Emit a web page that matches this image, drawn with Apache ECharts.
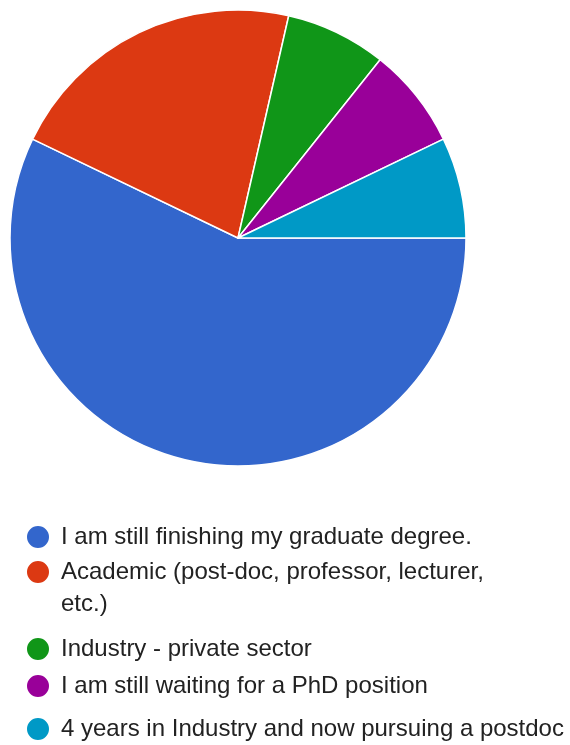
<!DOCTYPE html>
<html>
<head>
<meta charset="utf-8">
<script src="https://cdn.jsdelivr.net/npm/echarts@6/dist/echarts.min.js"></script>
<style>
html, body { margin: 0; padding: 0; background: #fff; }
#chart { width: 570px; height: 745px; }
</style>
</head>
<body>
<div id="chart"></div>
<script>
const categories = [
  'I am still finishing my graduate degree.',
  'Academic (post-doc, professor, lecturer, etc.)',
  'Industry - private sector',
  'I am still waiting for a PhD position',
  '4 years in Industry and now pursuing a postdoc'
];
const values = [8, 3, 1, 1, 1];
const colors = ['#3366cc', '#dc3912', '#109618', '#990099', '#0099c6'];
const legendLabels = [
  'I am still finishing my graduate degree.',
  ' \nAcademic (post-doc, professor, lecturer,\netc.)',
  'Industry - private sector',
  'I am still waiting for a PhD position',
  '4 years in Industry and now pursuing a postdoc'
];

const legendTops = [524, 524, 636, 673, 716];
const chart = echarts.init(document.getElementById('chart'), null, { renderer: 'canvas' });

const legends = categories.map((name, i) => {
  const twoLine = legendLabels[i].indexOf('\n') >= 0;
  return {
    show: true,
    orient: 'vertical',
    left: 25,
    top: legendTops[i],
    padding: 0,
    data: [name],
    icon: 'circle',
    itemWidth: 24,
    itemHeight: 24,
    selectedMode: false,
    formatter: () => legendLabels[i],
    textStyle: {
      fontFamily: 'Liberation Sans, Arial, sans-serif',
      fontSize: 24,
      color: '#222222',
      lineHeight: twoLine ? 32 : 24,
      padding: [0, 0, 0, 6]
    }
  };
});

chart.setOption({
  animation: false,
  color: colors,
  legend: legends,
  series: [{
    type: 'pie',
    center: [238, 238],
    radius: [0, 228],
    startAngle: 0,
    clockwise: true,
    label: { show: false },
    labelLine: { show: false },
    itemStyle: { borderColor: '#ffffff', borderWidth: 1.5 },
    emphasis: { disabled: true },
    data: categories.map((name, i) => ({ name: name, value: values[i] }))
  }]
});
</script>
</body>
</html>
